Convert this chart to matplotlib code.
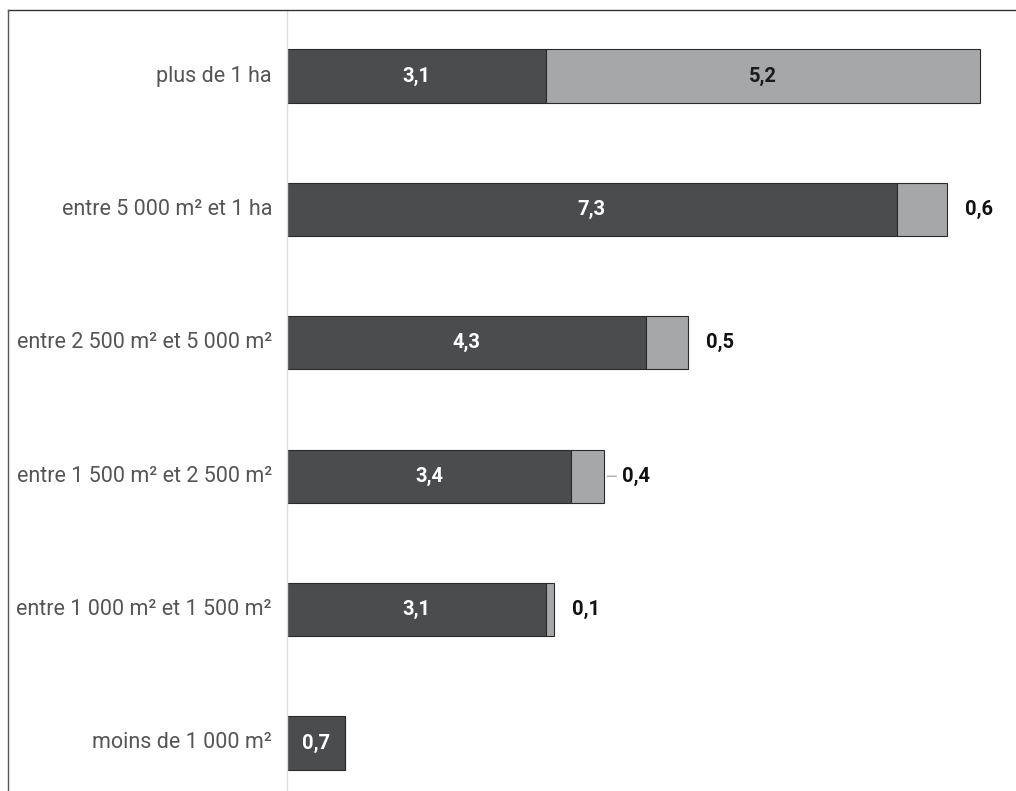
import matplotlib
matplotlib.use("Agg")
import matplotlib.pyplot as plt
from matplotlib.lines import Line2D

plt.rcParams['font.family'] = ['Roboto', 'DejaVu Sans']

categories = ["plus de 1 ha", "entre 5 000 m² et 1 ha", "entre 2 500 m² et 5 000 m²",
              "entre 1 500 m² et 2 500 m²", "entre 1 000 m² et 1 500 m²", "moins de 1 000 m²"]
dark_vals = [3.1, 7.3, 4.3, 3.4, 3.1, 0.7]
light_vals = [5.2, 0.6, 0.5, 0.4, 0.1, 0.0]
dark_labels = ["3,1", "7,3", "4,3", "3,4", "3,1", "0,7"]
light_labels = ["5,2", "0,6", "0,5", "0,4", "0,1", ""]

DARK = "#4b4c4d"
LIGHT = "#a6a7a8"

fig = plt.figure(figsize=(10.16, 7.91), dpi=100)
ax = fig.add_axes([287/1016, 0, 1 - 287/1016, 1 - 10/791])

y = list(range(len(categories)))
h = 0.40
ax.barh(y, dark_vals, height=h, color=DARK, edgecolor="#2a2a2a", linewidth=0.8)
ax.barh(y, light_vals, left=dark_vals, height=h, color=LIGHT, edgecolor="#2a2a2a", linewidth=0.8)

ax.set_xlim(0, (1016 - 287) / 83.5)
ax.set_ylim(5.36, -0.495)

for i in y:
    ax.text(dark_vals[i] / 2, i, dark_labels[i], color="white", fontsize=14.5,
            fontweight="bold", ha="center", va="center")
    if light_labels[i]:
        if i == 0:
            ax.text(dark_vals[i] + light_vals[i] / 2, i, light_labels[i], color="#1a1a1a",
                    fontsize=14.5, fontweight="bold", ha="center", va="center")
        else:
            end = dark_vals[i] + light_vals[i]
            ax.annotate(light_labels[i], xy=(end, i), xytext=(18, 0), textcoords="offset pixels",
                        color="#111111", fontsize=14.5, fontweight="bold", ha="left", va="center")
            if i == 3:
                ax.annotate("", xy=(end, i), xytext=(15, 0), textcoords="offset pixels",
                            arrowprops=dict(arrowstyle="-", color="#999999", lw=0.8))
    ax.annotate(categories[i], xy=(0, i), xytext=(-15, 0), textcoords="offset pixels",
                color="#555555", fontsize=15.5, ha="right", va="center")

ax.set_xticks([])
ax.set_yticks([])
for s in ["top", "right", "bottom"]:
    ax.spines[s].set_visible(False)
ax.spines["left"].set_color("#dddddd")
ax.spines["left"].set_linewidth(1.0)
ax.set_facecolor("none")

# frame lines (top and left)
fig.add_artist(Line2D([8/1016, 1], [1 - 10/791, 1 - 10/791], transform=fig.transFigure,
                      color="#333333", linewidth=1.0))
fig.add_artist(Line2D([8/1016, 8/1016], [0, 1 - 10/791], transform=fig.transFigure,
                      color="#555555", linewidth=1.0))

fig.savefig("out.png", dpi=100)
